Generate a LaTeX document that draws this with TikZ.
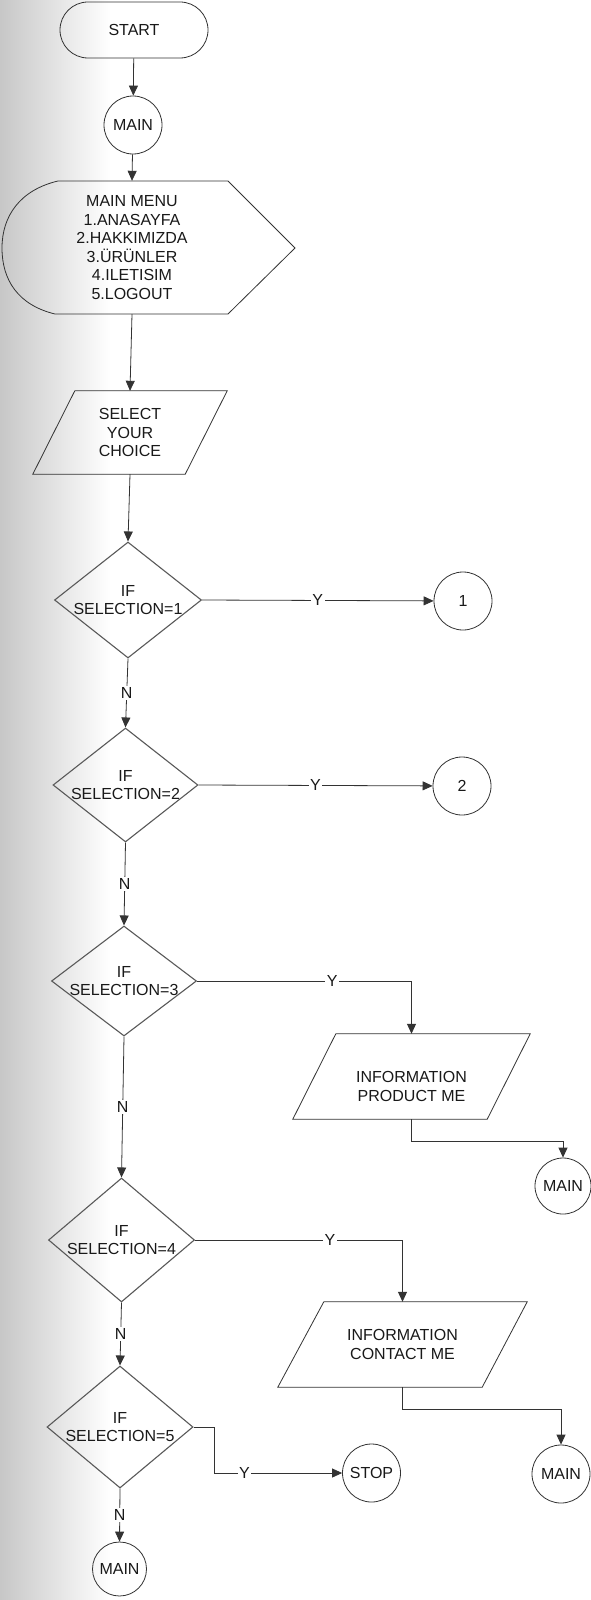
\documentclass[tikz,border=0pt]{standalone}
\usepackage{fontspec}
\setmainfont{Liberation Sans}
\usetikzlibrary{shapes.geometric,arrows.meta,calc}
\begin{document}
\begin{tikzpicture}[x=1pt,y=-1pt,
  every node/.style={font=\fontsize{16}{18.6}\selectfont, text=black!90},
  ln/.style={draw=black!80, line width=0.8pt},
  arr/.style={ln, -{Triangle[length=10pt,width=9pt]}},
  term/.style={ln, rectangle, rounded corners=28pt, minimum width=148pt, minimum height=56pt, inner sep=0pt},
  conn/.style={ln, circle, minimum size=#1, inner sep=0pt},
  dec/.style n args={2}{draw=black!65, line width=1.1pt, diamond, minimum width=#1, minimum height=#2, inner sep=0pt},
  box/.style n args={2}{rectangle, minimum width=#1, minimum height=#2, inner sep=0pt, align=center},
  lab/.style={fill=white, inner sep=1.5pt},
]
\useasboundingbox (0,0) rectangle (591,1600);
\fill[white] (0,0) rectangle (591,1600);
\shade[left color=black!22, right color=white] (0,0) rectangle (110,1600);

% main column
\node[term] (start) at (134,30) {START};
\node[conn=58] (m1) at (133,125) {MAIN};
\node[box={170}{133}] (menu) at (132,247.5) {MAIN MENU\\1.ANASAYFA\\2.HAKKIMIZDA\\3.ÜRÜNLER\\4.ILETISIM\\5.LOGOUT};
\draw[ln] (58,181) -- (228,181) -- (295,248) -- (228,314) -- (55,314)
  .. controls (18,305) and (2,280) .. (2,248)
  .. controls (2,216) and (20,190) .. (58,181);

\node[box={194}{83}] (sel) at (130,432.5) {SELECT\\YOUR\\CHOICE};
\draw[ln] ($(sel.north west)+(42,0)$) -- (sel.north east) -- ($(sel.south east)+(-42,0)$) -- (sel.south west) -- cycle;

\node[dec={147}{116}, label={[align=center]center:{IF\\SELECTION=1}}] (d1) at (128,600) {};
\node[dec={145}{114}, label={[align=center]center:{IF\\SELECTION=2}}] (d2) at (125.5,785) {};
\node[dec={145}{110}, label={[align=center]center:{IF\\SELECTION=3}}] (d3) at (124,981) {};
\node[dec={146}{124}, label={[align=center]center:{IF\\SELECTION=4}}] (d4) at (121.5,1240) {};
\node[dec={146}{122}, label={[align=center]center:{IF\\SELECTION=5}}] (d5) at (120,1427) {};
\node[conn=54] (mB) at (119.5,1569) {MAIN};

% right side
\node[conn=58] (c1) at (463,601) {1};
\node[conn=58] (c2) at (462,786) {2};

\node[box={237}{85}, label={[align=center,yshift=-10pt]center:{INFORMATION\\PRODUCT ME}}] (info1) at (411.5,1076.5) {};
\draw[ln] ($(info1.north west)+(43,0)$) -- (info1.north east) -- ($(info1.south east)+(-43,0)$) -- (info1.south west) -- cycle;
\node[conn=56] (mR1) at (563,1186) {MAIN};

\node[box={249}{85}, label={[align=center]center:{INFORMATION\\CONTACT ME}}] (info2) at (402.5,1344.5) {};
\draw[ln] ($(info2.north west)+(46,0)$) -- (info2.north east) -- ($(info2.south east)+(-45,0)$) -- (info2.south west) -- cycle;
\node[conn=58] (mR2) at (561,1474) {MAIN};

\node[conn=58] (stop) at (371.5,1473) {STOP};

% connectors
\draw[arr] (start) -- (m1);
\draw[arr] (m1) -- (menu.north);
\draw[arr] (menu.south) -- (sel.north);
\draw[arr] (sel.south) -- (d1.north);
\draw[arr] (d1.east) -- node[lab]{Y} (c1);
\draw[arr] (d1.south) -- node[lab]{N} (d2.north);
\draw[arr] (d2.east) -- node[lab]{Y} (c2);
\draw[arr] (d2.south) -- node[lab]{N} (d3.north);
\draw[arr] (d3.east) -| node[lab,pos=0.315]{Y} (info1.north);
\draw[arr] (d3.south) -- node[lab]{N} (d4.north);
\draw[arr] (info1.south) -- ++(0,22) -| (mR1.north);
\draw[arr] (d4.east) -| node[lab,pos=0.325]{Y} (info2.north);
\draw[arr] (d4.south) -- node[lab]{N} (d5.north);
\draw[arr] (info2.south) -- ++(0,22) -| (mR2.north);
\draw[arr] (d5.east) -- ++(21,0) |- node[lab,pos=0.617]{Y} (stop.west);
\draw[arr] (d5.south) -- node[lab]{N} (mB.north);
\end{tikzpicture}
\end{document}
